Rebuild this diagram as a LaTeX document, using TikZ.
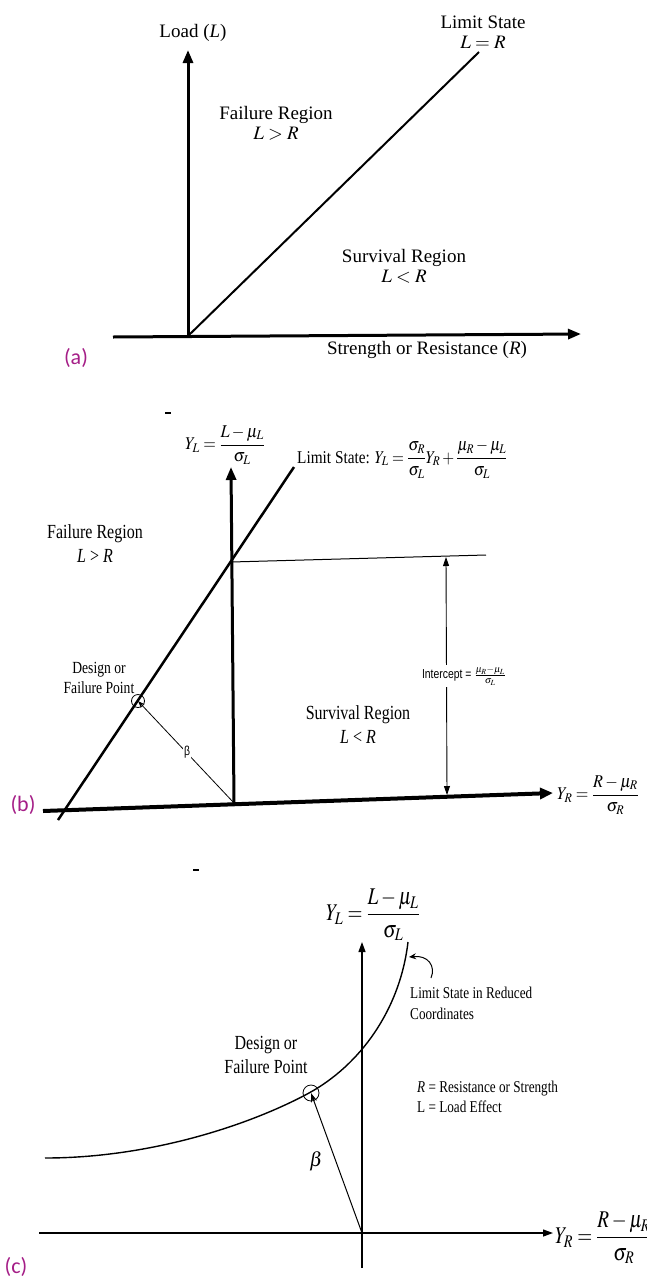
\documentclass[tikz,border=0pt]{standalone}
\usepackage{amsmath}
\usepackage{mathptmx}
\usepackage{fontspec}
\setmainfont{Liberation Serif}
\newfontfamily\condf[FakeStretch=0.8]{Liberation Serif}
\newfontfamily\sansc[FakeStretch=0.8]{Liberation Sans}
\newfontfamily\labf{Carlito}
\usepackage{graphicx}
\usetikzlibrary{arrows.meta}
\definecolor{panelmag}{RGB}{165,30,135}
\begin{document}
\begin{tikzpicture}[x=1pt,y=-1pt,
  thickax/.style={line width=3pt,-{Triangle[length=13pt,width=10pt]}},
  thinax/.style={line width=1.2pt,-{Triangle[length=10pt,width=7pt]}},
  limline/.style={line width=2pt},
  ta/.style={font=\fontsize{19}{20}\selectfont,align=center,inner sep=0pt},
  tb/.style={font=\condf\fontsize{20}{24}\selectfont,align=center,inner sep=0pt},
  tbs/.style={font=\condf\fontsize{17}{20}\selectfont,align=center,inner sep=0pt},
  tc/.style={font=\condf\fontsize{20}{24}\selectfont,align=center,inner sep=0pt},
  tcs/.style={font=\condf\fontsize{16.5}{21}\selectfont,align=left,inner sep=0pt},
  mathlab/.style={inner sep=0pt},
  plab/.style={font=\labf\fontsize{22}{26}\selectfont,text=panelmag,inner sep=0pt},
  dpcirc/.style={circle,draw,inner sep=0pt,line width=0.8pt}]
\useasboundingbox (0,0) rectangle (646,1280);
\fill[white] (0,0) rectangle (646,1280);

% ---------------- panel (a)
\coordinate (oa) at (188,336);
\coordinate (axL) at (113,337);
\coordinate (axR) at (581,334);
\coordinate (ayT) at (188,50);
\coordinate (limA) at (479,52);
\draw[thickax] (axL) -- (axR);
\draw[thickax] (oa) -- (ayT);
\draw[limline] (oa) -- (limA);
\node[ta] (loadL) at (193,33) {Load (\textit{L})};
\node[ta] (lsA) at (483,32) {Limit State\\ $L = R$};
\node[ta] (frA) at (276,123) {Failure Region\\ $L > R$};
\node[ta] (srA) at (404,266) {Survival Region\\ $L < R$};
\node[ta] (strA) at (427,350) {Strength or Resistance (\textit{R})};
\node[plab] (pa) at (76,358) {(a)};

% ---------------- panel (b)
\coordinate (ob) at (234,803);
\coordinate (bxL) at (43,811);
\coordinate (bxR) at (553,793);
\coordinate (byT) at (231,467);
\coordinate (limB0) at (58,820);
\coordinate (limB1) at (294,467);
\coordinate (intB) at (231,562);
\coordinate (hB) at (486,555);
\coordinate (icT) at (446,557);
\coordinate (icB) at (447,795);
\draw[line width=4pt,-{Triangle[length=13pt,width=11pt]}] (bxL) -- (bxR);
\draw[thickax] (ob) -- (byT);
\draw[line width=2.5pt] (limB0) -- (limB1);
\draw[line width=1pt] (intB) -- (hB);
\draw[line width=0.9pt,{Triangle[length=9pt,width=6pt]}-{Triangle[length=9pt,width=6pt]}] (icT) -- (icB);
\node[fill=white,inner sep=1.5pt,font=\sansc\fontsize{13}{15}\selectfont] (icL) at (464,676) {Intercept = $\frac{\mu_R-\mu_L}{\sigma_L}$};
\node[dpcirc,minimum size=13pt] (dpB) at (138,701) {};
\draw[line width=0.8pt,-{Stealth[length=7pt,width=5pt]}] (ob) -- (dpB.center);
\node[fill=white,inner sep=1pt,font=\sansc\fontsize{13}{14}\selectfont] (betaB) at (187,752) {β};
\node[tb] (frB) at (95,544) {Failure Region\\ {\itshape L} > {\itshape R}};
\node[tb] (srB) at (358,725) {Survival Region\\ {\itshape L} < {\itshape R}};
\node[tbs] (dpTB) at (99,678) {Design or\\ Failure Point};
\node[mathlab,font=\fontsize{18}{22}\selectfont] (ylB) at (225,445) {\scalebox{0.9}[1]{$Y_L=\dfrac{L-\mu_L}{\sigma_L}$}};
\node[mathlab,anchor=base west,font=\fontsize{18}{22}\selectfont] (lsB) at (297,463) {\scalebox{0.85}[1]{Limit State: $Y_L=\dfrac{\sigma_R}{\sigma_L}Y_R+\dfrac{\mu_R-\mu_L}{\sigma_L}$}};
\node[mathlab,anchor=west,font=\fontsize{18}{22}\selectfont] (yrB) at (557,795) {\scalebox{0.9}[1]{$Y_R=\dfrac{R-\mu_R}{\sigma_R}$}};
\node[plab] (pb) at (23,805) {(b)};
\draw[line width=1.5pt] (165,413) -- (171,413);

% ---------------- panel (c)
\coordinate (oc) at (362,1233);
\coordinate (cxL) at (39,1233);
\coordinate (cxR) at (553,1233);
\coordinate (cyB) at (362,1268);
\coordinate (cyT) at (362,942);
\draw[thinax] (cxL) -- (cxR);
\draw[thinax] (cyB) -- (cyT);
\coordinate (cv0) at (45,1158);
\coordinate (cv1) at (309,1093);
\coordinate (cv2) at (408,942);
\draw[line width=1.4pt] (cv0) .. controls (150,1158) and (250,1125) .. (cv1)
  .. controls (360,1065) and (400,1010) .. (cv2);
\node[dpcirc,minimum size=16pt] (dpC) at (311,1093) {};
\draw[line width=1pt,-{Stealth[length=9pt,width=6pt]}] (oc) -- (dpC.center);
\node[mathlab,font=\fontsize{20}{22}\selectfont] (betaC) at (316,1161) {$\beta$};
\coordinate (cuA) at (431,978);
\coordinate (cuB) at (409,957);
\draw[line width=1pt,-{Stealth[length=7pt,width=6pt]}] (cuA) .. controls (436,966) and (428,955) .. (cuB);
\node[tcs,anchor=west] (lsC) at (410,1003) {Limit State in Reduced\\ Coordinates};
\node[tc] (dpTC) at (266,1055) {Design or\\ Failure Point};
\node[tcs,anchor=west,font=\condf\fontsize{16.5}{20}\selectfont] (rlC) at (417,1097) {{\itshape R} = Resistance or Strength\\ L = Load Effect};
\node[mathlab,anchor=west,font=\fontsize{24}{28}\selectfont] (ylC) at (326,915) {\scalebox{0.8}[1]{$Y_L=\dfrac{L-\mu_L}{\sigma_L}$}};
\node[mathlab,anchor=west,font=\fontsize{24}{28}\selectfont] (yrC) at (555,1238) {\scalebox{0.8}[1]{$Y_R=\dfrac{R-\mu_R}{\sigma_R}$}};
\node[plab] (pc) at (16,1267) {(c)};
\draw[line width=1.5pt] (193,870) -- (199,870);
\end{tikzpicture}
\end{document}
